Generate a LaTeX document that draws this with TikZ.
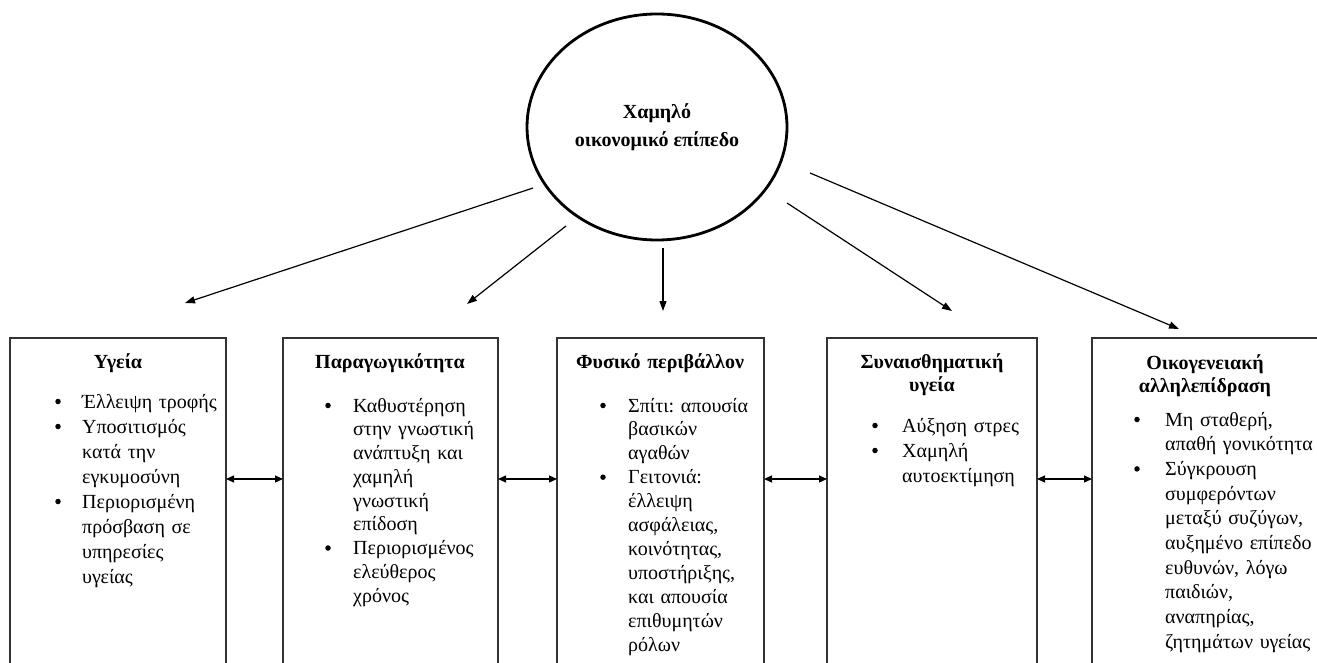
\documentclass[tikz,border=0pt]{standalone}
\usepackage{fontspec}
\setmainfont{Liberation Serif}
\usetikzlibrary{shapes.geometric,arrows.meta}
\frenchspacing
\tikzset{
  boxnode/.style={draw=black!80, line width=1.5pt, rectangle, anchor=north west, inner sep=0pt, outer sep=0pt, minimum height=400pt},
  ttl/.style={anchor=base, inner sep=0pt, align=center, text width=210pt, font=\fontsize{20pt}{23pt}\selectfont\bfseries},
  itm/.style={anchor=base west, inner sep=0pt, align=left, text width=220pt, font=\fontsize{20pt}{#1}\selectfont},
  bul/.style={circle, fill=black, inner sep=0pt, minimum size=5.5pt, yshift=6.5pt},
  arr/.style={line width=1.2pt, -{Triangle[length=10pt,width=7pt]}},
  darr/.style={line width=1.2pt, {Triangle[length=8pt,width=7pt]}-{Triangle[length=8pt,width=7pt]}},
}
\begin{document}
\begin{tikzpicture}[x=1pt,y=-1pt]
\useasboundingbox (0,0) rectangle (1317,663);
\clip (0,0) rectangle (1317,663);

% central ellipse
\node[draw, ellipse, line width=2.8pt, minimum width=260pt, minimum height=226pt, inner sep=0pt,
      align=center, font=\fontsize{20pt}{28pt}\selectfont\bfseries] (circ) at (657,127)
      {Χαμηλό\\οικονομικό επίπεδο};

% boxes
\node[boxnode, minimum width=216pt] (b1) at (10,338) {};
\node[boxnode, minimum width=215pt] (b2) at (283,338) {};
\node[boxnode, minimum width=207pt] (b3) at (557,338) {};
\node[boxnode, minimum width=210pt] (b4) at (827,338) {};
\node[boxnode, minimum width=230pt] (b5) at (1092,338) {};

% box 1
\node[ttl] (t1) at (118,368) {Υγεία};
\node[bul] (p11) at (58,408) {};
\node[itm=25pt] (i11) at (82,408) {Έλλειψη τροφής};
\node[bul] (p12) at (58,433) {};
\node[itm=25pt] (i12) at (82,433) {Υποσιτισμός\\κατά την\\εγκυμοσύνη};
\node[bul] (p13) at (58,508) {};
\node[itm=25pt] (i13) at (82,508) {Περιορισμένη\\πρόσβαση σε\\υπηρεσίες\\υγείας};

% box 2
\node[ttl] (t2) at (390,368) {Παραγωγικότητα};
\node[bul] (p21) at (328,412) {};
\node[itm=23.75pt] (i21) at (353,412) {Καθυστέρηση\\στην γνωστική\\ανάπτυξη και\\χαμηλή\\γνωστική\\επίδοση};
\node[bul] (p22) at (328,554.5) {};
\node[itm=23.75pt] (i22) at (353,554.5) {Περιορισμένος\\ελεύθερος\\χρόνος};

% box 3
\node[ttl] (t3) at (660,368) {Φυσικό περιβάλλον};
\node[bul] (p31) at (603,412) {};
\node[itm=23.9pt] (i31) at (628,412) {Σπίτι: απουσία\\βασικών\\αγαθών};
\node[bul] (p32) at (603,483.7) {};
\node[itm=23.9pt] (i32) at (628,483.7) {Γειτονιά:\\έλλειψη\\ασφάλειας,\\κοινότητας,\\υποστήριξης,\\και απουσία\\επιθυμητών\\ρόλων};

% box 4
\node[ttl] (t4) at (932,368) {Συναισθηματική\\υγεία};
\node[bul] (p41) at (875,432) {};
\node[itm=25pt] (i41) at (902,432) {Αύξηση στρες};
\node[bul] (p42) at (875,457) {};
\node[itm=25pt] (i42) at (902,457) {Χαμηλή\\αυτοεκτίμηση};

% box 5
\node[ttl] (t5) at (1205,369) {Οικογενειακή\\αλληλεπίδραση};
\node[bul] (p51) at (1137,426) {};
\node[itm=24.7pt] (i51) at (1165,426) {Μη σταθερή,\\απαθή γονικότητα};
\node[bul] (p52) at (1137,475.4) {};
\node[itm=24.7pt] (i52) at (1165,475.4) {Σύγκρουση\\συμφερόντων\\μεταξύ συζύγων,\\αυξημένο επίπεδο\\ευθυνών, λόγω\\παιδιών,\\αναπηρίας,\\ζητημάτων υγείας};

% arrows from the ellipse
\coordinate (s1) at (533,188); \coordinate (e1) at (185,303);
\coordinate (s2) at (566,226); \coordinate (e2) at (467,304);
\coordinate (s3) at (663,248); \coordinate (e3) at (663,311);
\coordinate (s4) at (787,203); \coordinate (e4) at (952,311);
\coordinate (s5) at (810,173); \coordinate (e5) at (1179,329);
\draw[arr] (s1) -- (e1);
\draw[arr] (s2) -- (e2);
\draw[arr] (s3) -- (e3);
\draw[arr] (s4) -- (e4);
\draw[arr] (s5) -- (e5);

% double arrows between boxes
\coordinate (mid) at (0,479);
\draw[darr] (b1.east |- mid) -- (b2.west |- mid);
\draw[darr] (b2.east |- mid) -- (b3.west |- mid);
\draw[darr] (b3.east |- mid) -- (b4.west |- mid);
\draw[darr] (b4.east |- mid) -- (b5.west |- mid);
\end{tikzpicture}
\end{document}
